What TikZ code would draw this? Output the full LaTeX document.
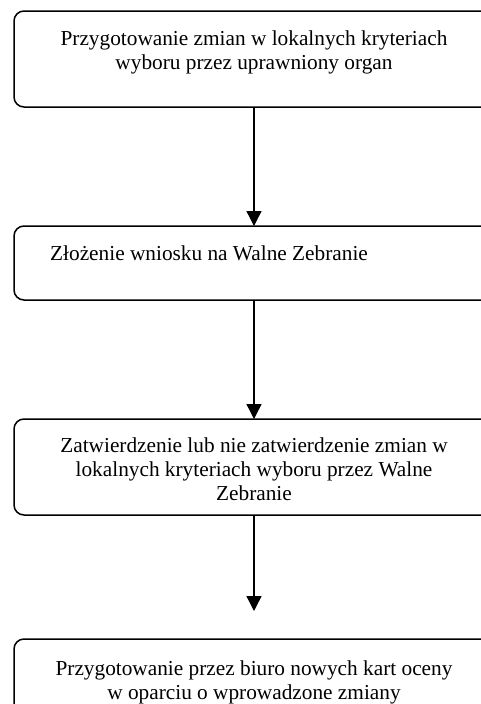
\documentclass[tikz,border=0pt]{standalone}
\usepackage{fontspec}
\setmainfont{Liberation Serif}
\usetikzlibrary{arrows.meta}
\tikzset{
  box/.style={draw=black, line width=1.5pt, rounded corners=10pt},
  lbl/.style={font=\fontsize{21.3}{24}\selectfont, inner sep=0pt, align=center, anchor=base},
  flow/.style={draw=black, line width=1.4pt, -{Triangle[width=15pt,length=15pt]}}
}
\begin{document}
\begin{tikzpicture}[x=1pt,y=-1pt]
\useasboundingbox (0,0) rectangle (481,704);
\begin{scope}
\clip (0,0) rectangle (481,704);
\draw[box] (14,11) rectangle (520,107);
\draw[box] (14,226) rectangle (520,300);
\draw[box] (14,419) rectangle (520,515);
\draw[box] (14,639) rectangle (520,760);
\end{scope}
\coordinate (b1s) at (254,107);
\coordinate (b2n) at (254,226);
\coordinate (b2s) at (254,300);
\coordinate (b3n) at (254,419);
\coordinate (b3s) at (254,515);
\coordinate (end3) at (254,611);
\node[lbl] (t1) at (254,69) {Przygotowanie zmian w lokalnych kryteriach\\wyboru przez uprawniony organ};
\node[lbl, anchor=base west] (t2) at (50,260) {Złożenie wniosku na Walne Zebranie};
\node[lbl] (t3) at (254,500) {Zatwierdzenie lub nie zatwierdzenie zmian w\\lokalnych kryteriach wyboru przez Walne\\Zebranie};
\node[lbl] (t4) at (254,699) {Przygotowanie przez biuro nowych kart oceny\\w oparciu o wprowadzone zmiany};
\draw[flow] (b1s) -- (b2n);
\draw[flow] (b2s) -- (b3n);
\draw[flow] (b3s) -- (end3);
\end{tikzpicture}
\end{document}
